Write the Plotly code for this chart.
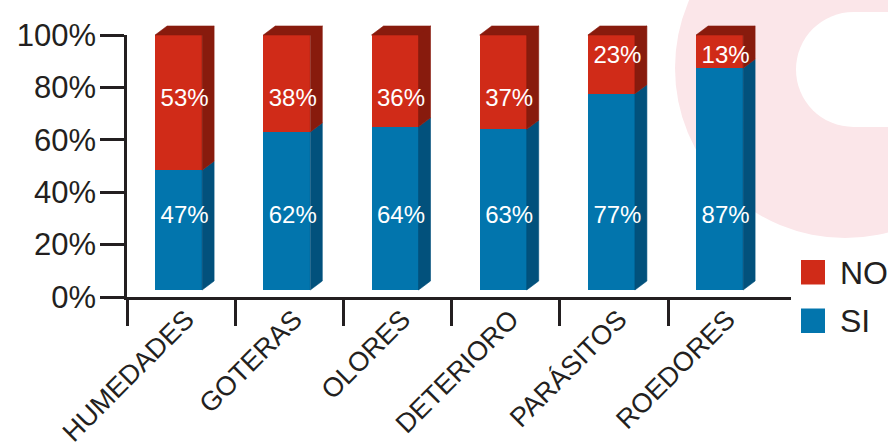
import plotly.graph_objects as go

# ---- data -------------------------------------------------------------
categories = ["HUMEDADES", "GOTERAS", "OLORES", "DETERIORO", "PARÁSITOS", "ROEDORES"]
si_values = [47, 62, 64, 63, 77, 87]
no_values = [53, 38, 36, 37, 23, 13]
y_tick_values = [0, 20, 40, 60, 80, 100]
y_tick_labels = ["0%", "20%", "40%", "60%", "80%", "100%"]

# ---- style ------------------------------------------------------------
RED, RED_DARK = "#d02b18", "#881b0d"
BLUE, BLUE_DARK = "#0275ad", "#02517c"
INK = "#231f20"
PINK = "#fbe6e9"
FONT = "Liberation Sans, Arial, Helvetica, sans-serif"

W, H = 888, 443
PLOT_L, PLOT_R, PLOT_T, PLOT_B = 127, 791, 14, 297
AXIS_TOP_PX = 35          # where the 100% tick sits
BAR_ZERO_PX, BAR_FULL_PX = 290, 35   # front face of the 3D columns
PX_PER_CAT = 108.2
PX_PER_PCT = (BAR_ZERO_PX - BAR_FULL_PX) / 100.0

BAR_OFFSET = -26 / PX_PER_CAT
BAR_WIDTH = 47 / PX_PER_CAT
DEPTH_X = 12 / PX_PER_CAT
DEPTH_Y = 9 / PX_PER_PCT

SI_LABEL_Y = 28.6
NO_LABEL_Y_TALL = 74.5
NO_LABEL_Y_SHORT = 91.4

x_range = [-0.5, -0.5 + (PLOT_R - PLOT_L) / PX_PER_CAT]
y2_range = [-(PLOT_B - BAR_ZERO_PX) / PX_PER_PCT, (BAR_ZERO_PX - PLOT_T) / PX_PER_PCT]
y_domain_top = (PLOT_B - AXIS_TOP_PX) / (PLOT_B - PLOT_T)


def px_x(px):
    return (px - PLOT_L) / (PLOT_R - PLOT_L)


def px_y(py):
    return (PLOT_B - py) / (PLOT_B - PLOT_T)


fig = go.Figure()

# the percentage axis carries no marks of its own; register it with an empty trace
fig.add_trace(go.Scatter(x=[], y=[], xaxis="x", yaxis="y", showlegend=False, hoverinfo="skip"))

# front faces of the stacked columns
xs = list(range(len(categories)))
fig.add_trace(go.Bar(x=xs, y=si_values, name="SI", marker=dict(color=BLUE, line=dict(width=0)),
                     offset=BAR_OFFSET, width=BAR_WIDTH, xaxis="x", yaxis="y2",
                     showlegend=False, hoverinfo="skip"))
fig.add_trace(go.Bar(x=xs, y=no_values, name="NO", marker=dict(color=RED, line=dict(width=0)),
                     offset=BAR_OFFSET, width=BAR_WIDTH, xaxis="x", yaxis="y2",
                     showlegend=False, hoverinfo="skip"))

# side and top faces for the 3D look
blue_x, blue_y, red_x, red_y = [], [], [], []
for i, (s, n) in enumerate(zip(si_values, no_values)):
    xl = i + BAR_OFFSET
    x0 = xl + BAR_WIDTH
    x1 = x0 + DEPTH_X
    top = s + n
    blue_x += [x0, x1, x1, x0, x0, None]
    blue_y += [0, DEPTH_Y, s + DEPTH_Y, s, 0, None]
    red_x += [x0, x1, x1, x0, x0, None]
    red_y += [s, s + DEPTH_Y, top + DEPTH_Y, top, s, None]
    red_x += [xl, x0, x1, xl + DEPTH_X, xl, None]
    red_y += [top, top, top + DEPTH_Y, top + DEPTH_Y, top, None]

for fx, fy, col in ((blue_x, blue_y, BLUE_DARK), (red_x, red_y, RED_DARK)):
    fig.add_trace(go.Scatter(x=fx, y=fy, mode="lines", fill="toself", fillcolor=col,
                             line=dict(width=0.6, color=col), xaxis="x", yaxis="y2",
                             showlegend=False, hoverinfo="skip"))

# value labels
label_x = [i + BAR_OFFSET + (BAR_WIDTH + DEPTH_X) / 2 for i in xs]
fig.add_trace(go.Scatter(x=label_x, y=[SI_LABEL_Y] * len(xs), mode="text",
                         text=[f"{v}%" for v in si_values],
                         textfont=dict(family=FONT, size=24, color="white"),
                         xaxis="x", yaxis="y2", cliponaxis=False, showlegend=False, hoverinfo="skip"))
fig.add_trace(go.Scatter(x=label_x,
                         y=[NO_LABEL_Y_TALL if n >= 30 else NO_LABEL_Y_SHORT for n in no_values],
                         mode="text", text=[f"{v}%" for v in no_values],
                         textfont=dict(family=FONT, size=24, color="white"),
                         xaxis="x", yaxis="y2", cliponaxis=False, showlegend=False, hoverinfo="skip"))

# background emblem and legend
shapes = [
    dict(type="circle", xref="paper", yref="paper", layer="below",
         x0=px_x(845 - 170), x1=px_x(845 + 170), y0=px_y(68 + 170), y1=px_y(68 - 170),
         fillcolor=PINK, line=dict(width=0)),
    dict(type="circle", xref="paper", yref="paper", layer="below",
         x0=px_x(853.5 - 57.5), x1=px_x(853.5 + 57.5), y0=px_y(69.5 + 57.5), y1=px_y(69.5 - 57.5),
         fillcolor="white", line=dict(width=0)),
    dict(type="rect", xref="paper", yref="paper", layer="below",
         x0=px_x(853.5), x1=px_x(900), y0=px_y(127), y1=px_y(12),
         fillcolor="white", line=dict(width=0)),
]
annotations = []
for name, col, top in (("NO", RED, 260), ("SI", BLUE, 308.5)):
    shapes.append(dict(type="rect", xref="paper", yref="paper",
                       x0=px_x(801), x1=px_x(825), y0=px_y(top + 24.5), y1=px_y(top),
                       fillcolor=col, line=dict(width=0)))
    annotations.append(dict(text=name, xref="paper", yref="paper", x=px_x(838), y=px_y(top + 12.5),
                            xanchor="left", yanchor="middle", showarrow=False,
                            font=dict(family=FONT, size=32, color=INK)))

fig.update_layout(
    width=W, height=H,
    margin=dict(l=PLOT_L, r=W - PLOT_R, t=PLOT_T, b=H - PLOT_B, pad=0, autoexpand=False),
    paper_bgcolor="white", plot_bgcolor="rgba(0,0,0,0)",
    barmode="stack", bargap=0,
    showlegend=False,
    shapes=shapes, annotations=annotations,
    xaxis=dict(range=x_range, anchor="y", tickmode="array", tickvals=xs, ticktext=categories,
               ticks="", tickangle=-45, ticklabelstandoff=-7, ticklabelshift=5,
               tickfont=dict(family=FONT, size=27, color=INK), automargin=False,
               showline=True, linecolor=INK, linewidth=2.6, showgrid=False, zeroline=False,
               minor=dict(tickmode="array", tickvals=[i - 0.5 for i in xs], ticks="outside",
                          ticklen=26, tickwidth=2.6, tickcolor=INK, showgrid=False)),
    yaxis=dict(domain=[0, y_domain_top], range=[0, 100], anchor="x", automargin=False,
               tickmode="array", tickvals=y_tick_values, ticktext=y_tick_labels,
               ticks="outside", ticklen=24, tickwidth=2.6, tickcolor=INK,
               ticklabelstandoff=-2,
               tickfont=dict(family=FONT, size=31, color=INK),
               showline=True, linecolor=INK, linewidth=2.6, showgrid=False, zeroline=False),
    yaxis2=dict(domain=[0, 1], range=y2_range, anchor="x", visible=False, automargin=False,
                showgrid=False, zeroline=False),
)

fig.write_html("out.html")
